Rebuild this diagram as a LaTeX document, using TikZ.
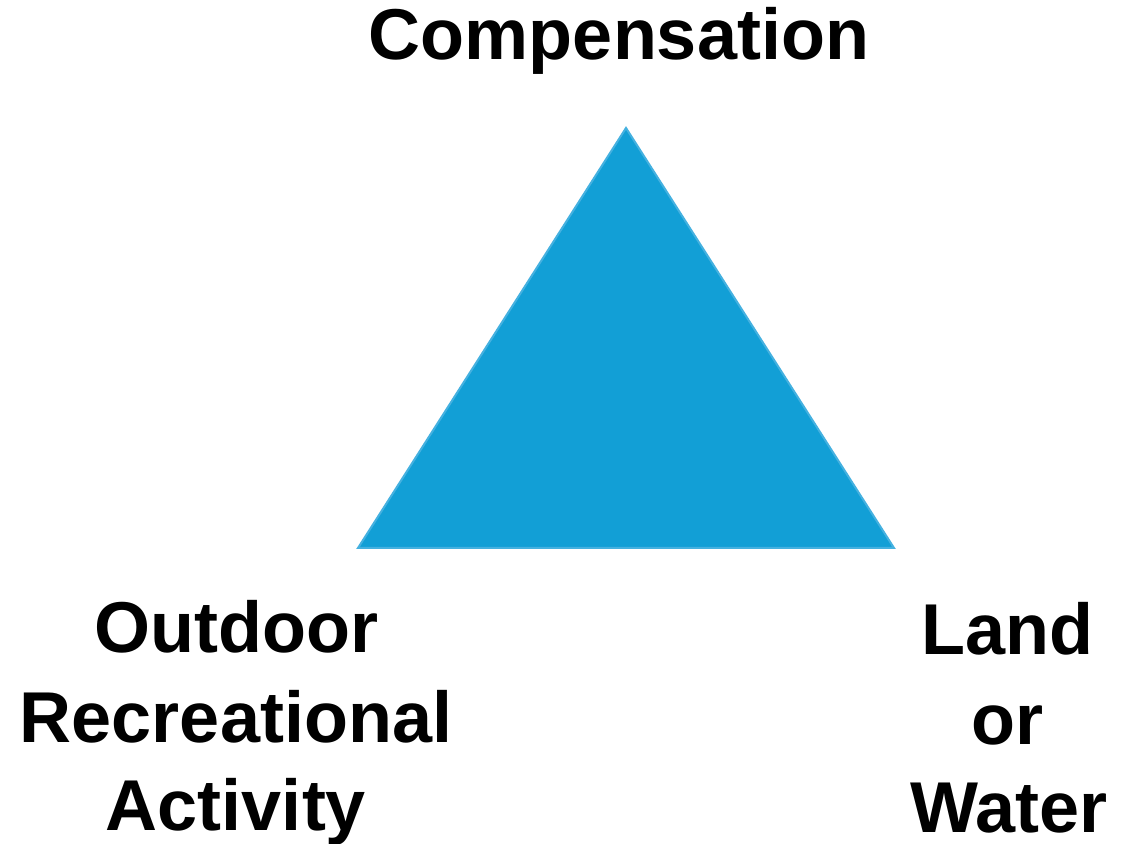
\documentclass[tikz,border=0pt]{standalone}
\usepackage{fontspec}
\setmainfont{Liberation Sans}
\definecolor{triblue}{HTML}{129FD6}
\definecolor{triedge}{HTML}{45B1E0}
\tikzset{
  lbl/.style={anchor=base, inner sep=0pt, font=\bfseries\fontsize{72}{90}\selectfont, text=black},
  tri/.style={fill=triblue, draw=triedge, line width=2pt, line join=miter}
}
\begin{document}
\begin{tikzpicture}[x=1pt,y=1pt]
\useasboundingbox[fill=white] (0,0) rectangle (1129,843);
\coordinate (apex) at (626,715);
\coordinate (bl) at (358,295);
\coordinate (br) at (894,295);
\draw[tri] (apex) -- (br) -- (bl) -- cycle;
\node[lbl] (comp) at (619,783) {Compensation};
\node[lbl] (ora) at (236,190) {Outdoor};
\node[lbl] (orb) at (236,100) {Recreational};
\node[lbl] (orc) at (236,13) {Activity};
\node[lbl] (lwa) at (1007,188) {Land};
\node[lbl] (lwb) at (1007,98) {or};
\node[lbl] (lwc) at (1009,11) {Water};
\end{tikzpicture}
\end{document}
